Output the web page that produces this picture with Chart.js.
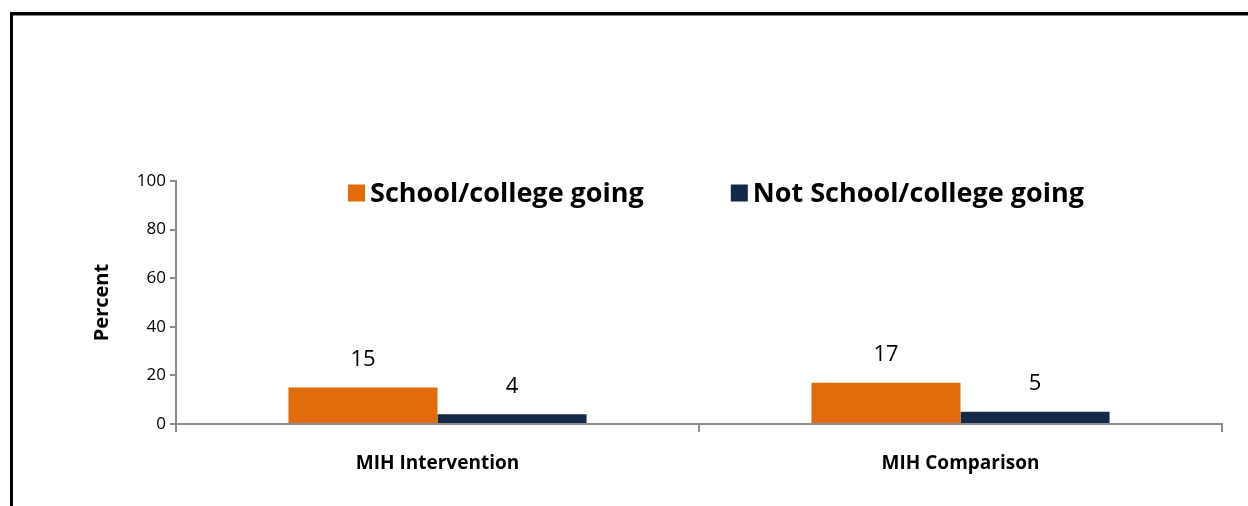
<!DOCTYPE html>
<html>
<head>
<meta charset="utf-8">
<script src="https://cdn.jsdelivr.net/npm/chart.js@4/dist/chart.umd.min.js"></script>
<style>
  html, body { margin: 0; padding: 0; background: #fff; overflow: hidden; }
  #marco {
    position: absolute; left: 10px; top: 12px;
    width: 1400px; height: 700px;
    border-top: 3px solid #000; border-left: 3px solid #000;
    box-shadow: inset 0 1px 0 #888;
  }
  #grafica { position: absolute; left: 0; top: 0; }
</style>
</head>
<body>
<div id="marco"></div>
<canvas id="grafica" width="1248" height="506"></canvas>
<script>
// datos
const cats = ["MIH Intervention", "MIH Comparison"];
const nombresSeries = ["School/college going", "Not School/college going"];
const valoresVanEscuela = [15, 17];
const valoresNoVanEscuela = [4, 5];
const coloresSeries = ["#E36C0A", "#14284A"];
const ticksY = [0, 20, 40, 60, 80, 100];

const fuente = "'Open Sans', sans-serif";

// leyenda dibujada dentro del area del grafico
const leyendaPlugin = {
  id: "leyenda",
  afterDraw(chart) {
    const ctx = chart.ctx;
    const area = chart.chartArea;
    const caja = 17, hueco = 5, sep = 87;
    ctx.save();
    ctx.font = "bold 27px " + fuente;
    ctx.textBaseline = "middle";
    let total = 0;
    chart.data.datasets.forEach((ds, i) => {
      total += caja + hueco + ctx.measureText(ds.label).width;
      if (i > 0) total += sep;
    });
    let x = (area.left + area.right) / 2 + 17 - total / 2;
    const y = area.top + 12;
    chart.data.datasets.forEach((ds) => {
      ctx.fillStyle = ds.backgroundColor;
      ctx.fillRect(x, y - caja / 2, caja, caja);
      x += caja + hueco;
      ctx.fillStyle = "#000";
      ctx.fillText(ds.label, x, y + 1);
      x += ctx.measureText(ds.label).width + sep;
    });
    ctx.restore();
  }
};

// etiquetas de valor sobre las barras
const etiquetasPlugin = {
  id: "etiquetas",
  afterDatasetsDraw(chart) {
    const ctx = chart.ctx;
    ctx.save();
    ctx.font = "22px " + fuente;
    ctx.fillStyle = "#000";
    ctx.textAlign = "center";
    ctx.textBaseline = "middle";
    chart.data.datasets.forEach((ds, i) => {
      chart.getDatasetMeta(i).data.forEach((barra, j) => {
        ctx.fillText(ds.data[j], barra.x, barra.y - 28);
      });
    });
    ctx.restore();
  }
};

function prepararConfig() {
  return {
    type: "bar",
    data: {
      labels: cats,
      datasets: [
        { label: nombresSeries[0], data: valoresVanEscuela, backgroundColor: coloresSeries[0] },
        { label: nombresSeries[1], data: valoresNoVanEscuela, backgroundColor: coloresSeries[1] }
      ]
    },
    options: {
      responsive: false,
      animation: false,
      categoryPercentage: 0.57,
      barPercentage: 1.0,
      layout: { padding: { top: 181, right: 26, bottom: 0, left: 0 } },
      plugins: {
        legend: { display: false },
        tooltip: { enabled: false }
      },
      scales: {
        x: {
          grid: { display: true, offset: true, drawOnChartArea: false, drawTicks: true, tickLength: 8, color: "#8c8c8c", lineWidth: 2 },
          border: { display: true, color: "#8c8c8c", width: 2 },
          ticks: { color: "#000", padding: 20, font: { family: fuente, size: 19, weight: "bold" } },
          afterFit(scale) { scale.height = 82; }
        },
        y: {
          min: 0,
          max: 100,
          afterBuildTicks(scale) { scale.ticks = ticksY.map(v => ({ value: v })); },
          grid: { display: true, drawOnChartArea: false, drawTicks: true, tickLength: 6, color: "#8c8c8c", lineWidth: 2 },
          border: { display: true, color: "#8c8c8c", width: 2 },
          ticks: { color: "#000", padding: 4, font: { family: fuente, size: 17 } },
          title: {
            display: true,
            text: "Percent",
            color: "#000",
            padding: { top: 90, bottom: 0 },
            font: { family: fuente, size: 20, weight: "bold" }
          },
          afterFit(scale) { scale.width = 176; }
        }
      }
    },
    plugins: [leyendaPlugin, etiquetasPlugin]
  };
}

new Chart(document.getElementById("grafica"), prepararConfig());
</script>
</body>
</html>
